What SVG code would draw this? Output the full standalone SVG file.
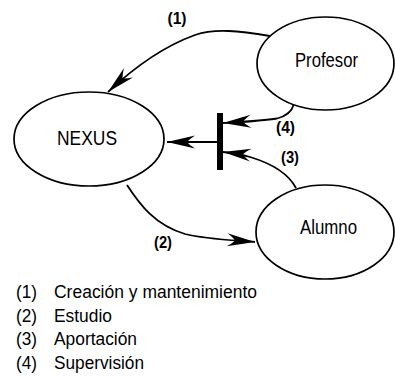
<svg xmlns="http://www.w3.org/2000/svg" width="395" height="379" viewBox="0 0 395 379">
<style>
.node{fill:#fff;stroke:#000;stroke-width:1.7}
.nl{font-family:"Liberation Sans",Arial,sans-serif;font-size:20.5px;fill:#000;text-anchor:middle}
.edge{fill:none;stroke:#000;stroke-width:1.8;marker-end:url(#ah)}
.el{font-family:"Liberation Sans",Arial,sans-serif;font-size:16px;font-weight:bold;fill:#000;text-anchor:middle}
.lg{font-family:"Liberation Sans",Arial,sans-serif;font-size:17.5px;fill:#000}
</style>
<defs>
<marker id="ah" markerUnits="userSpaceOnUse" markerWidth="32" markerHeight="16" viewBox="-29 -8 30 16" refX="0" refY="0" orient="auto" overflow="visible">
<path d="M0,0 L-28,-6.5 Q-22,-2.5 -20,0 Q-22,2.5 -28,6.5 Z" fill="#000"/>
</marker>
</defs>
<rect width="395" height="379" fill="#fff"/>
<g id="connectors">
<path id="e1" class="edge" d="M270,36 C240,31 215,28 195,35 C170,44 140,62 108,92"/>
<path id="e2" class="edge" d="M127,185 C140,205 155,225 185,234 C205,239 230,240 255,242"/>
<path id="e4" class="edge" d="M294,104 C292,111 287,116 277,118.5 C262,121 240,122 223,123"/>
<path id="e3" class="edge" d="M296,188 C288,173 270,163 250,157 C240,154 232,153 223,152"/>
<path id="e5" class="edge" d="M218,142 L167,142"/>
<rect id="bar" x="217" y="113" width="6" height="57" fill="#000"/>
<text class="el" x="177" y="24" textLength="19" lengthAdjust="spacingAndGlyphs">(1)</text>
<text class="el" x="163" y="248" textLength="18" lengthAdjust="spacingAndGlyphs">(2)</text>
<text class="el" x="290" y="163" textLength="18" lengthAdjust="spacingAndGlyphs">(3)</text>
<text class="el" x="285.5" y="133" textLength="19" lengthAdjust="spacingAndGlyphs">(4)</text>
</g>
<g id="nexus">
<ellipse class="node" cx="89" cy="139" rx="75" ry="47"/>
<text class="nl" x="87" y="144.5" textLength="60" lengthAdjust="spacingAndGlyphs">NEXUS</text>
</g>
<g id="profesor">
<ellipse class="node" cx="325.5" cy="63.5" rx="68.5" ry="46.5"/>
<text class="nl" x="326.5" y="66.5" textLength="63" lengthAdjust="spacingAndGlyphs">Profesor</text>
</g>
<g id="alumno">
<ellipse class="node" cx="325" cy="232" rx="69" ry="47"/>
<text class="nl" x="328.5" y="233.5" textLength="57" lengthAdjust="spacingAndGlyphs">Alumno</text>
</g>
<g id="legend">
<text class="lg" x="16" y="298" textLength="21" lengthAdjust="spacingAndGlyphs">(1)</text>
<text class="lg" x="54" y="298" textLength="203" lengthAdjust="spacingAndGlyphs">Creación y mantenimiento</text>
<text class="lg" x="16" y="321.5" textLength="21" lengthAdjust="spacingAndGlyphs">(2)</text>
<text class="lg" x="54" y="321.5" textLength="58" lengthAdjust="spacingAndGlyphs">Estudio</text>
<text class="lg" x="16" y="345" textLength="21" lengthAdjust="spacingAndGlyphs">(3)</text>
<text class="lg" x="54" y="345" textLength="83" lengthAdjust="spacingAndGlyphs">Aportación</text>
<text class="lg" x="16" y="368.5" textLength="21" lengthAdjust="spacingAndGlyphs">(4)</text>
<text class="lg" x="54" y="368.5" textLength="90" lengthAdjust="spacingAndGlyphs">Supervisión</text>
</g>
</svg>
